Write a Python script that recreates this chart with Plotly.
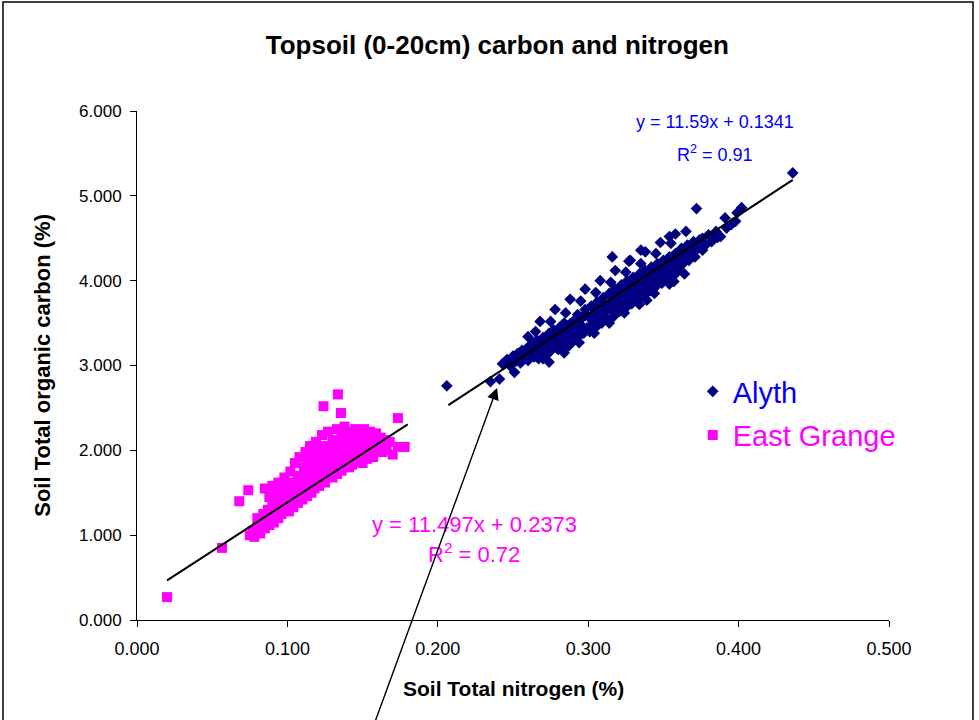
import plotly.graph_objects as go

# Alyth topsoil samples: total nitrogen (%) and total organic carbon (%)
alyth_n = [
    0.206, 0.235, 0.241, 0.251, 0.260, 0.436, 0.372, 0.402, 0.316, 0.327,
    0.335, 0.354, 0.357, 0.339, 0.365, 0.384, 0.391, 0.399, 0.386, 0.396,
    0.243, 0.246, 0.248, 0.250, 0.252, 0.253, 0.255, 0.256, 0.258, 0.259,
    0.260, 0.261, 0.262, 0.263, 0.264, 0.265, 0.266, 0.267, 0.268, 0.269,
    0.270, 0.271, 0.272, 0.273, 0.274, 0.275, 0.276, 0.277, 0.278, 0.279,
    0.280, 0.281, 0.282, 0.283, 0.284, 0.285, 0.286, 0.287, 0.288, 0.289,
    0.290, 0.291, 0.292, 0.293, 0.294, 0.295, 0.296, 0.297, 0.298, 0.299,
    0.300, 0.301, 0.302, 0.303, 0.304, 0.305, 0.306, 0.307, 0.308, 0.309,
    0.310, 0.311, 0.312, 0.313, 0.314, 0.315, 0.316, 0.317, 0.318, 0.319,
    0.320, 0.321, 0.322, 0.323, 0.324, 0.325, 0.326, 0.327, 0.328, 0.329,
    0.330, 0.331, 0.332, 0.333, 0.334, 0.335, 0.336, 0.337, 0.338, 0.339,
    0.340, 0.341, 0.342, 0.343, 0.344, 0.345, 0.346, 0.347, 0.348, 0.349,
    0.350, 0.351, 0.352, 0.353, 0.354, 0.355, 0.356, 0.357, 0.358, 0.359,
    0.360, 0.362, 0.363, 0.364, 0.366, 0.367, 0.368, 0.370, 0.371, 0.373,
    0.374, 0.376, 0.378, 0.380, 0.382, 0.385, 0.388, 0.392, 0.395, 0.398,
    0.262, 0.268, 0.274, 0.280, 0.286, 0.292, 0.298, 0.304, 0.310, 0.316,
    0.322, 0.328, 0.334, 0.340, 0.346, 0.352, 0.358, 0.364, 0.370, 0.376,
    0.265, 0.275, 0.285, 0.295, 0.305, 0.315, 0.325, 0.335, 0.345, 0.355,
    0.270, 0.280, 0.290, 0.300, 0.310, 0.320, 0.330, 0.340, 0.350, 0.360,
    0.248, 0.254, 0.258, 0.264, 0.272, 0.278, 0.288, 0.296, 0.306, 0.318,
    0.268, 0.278, 0.288, 0.298, 0.308, 0.318, 0.328, 0.338, 0.348, 0.358,
    0.274, 0.284, 0.294, 0.304, 0.314, 0.324, 0.334, 0.344, 0.354, 0.364,
]
alyth_c = [
    2.76, 2.81, 2.84, 2.92, 3.34, 5.27, 4.85, 4.86, 4.28, 4.23,
    4.36, 4.52, 3.99, 3.77, 4.58, 4.50, 4.74, 4.80, 4.51, 4.68,
    3.02, 3.07, 3.00, 3.11, 3.05, 3.14, 3.03, 3.18, 3.09, 3.20,
    3.06, 3.22, 3.13, 3.27, 3.10, 3.19, 3.30, 3.08, 3.24, 3.15,
    3.33, 3.20, 3.12, 3.28, 3.38, 3.17, 3.25, 3.42, 3.22, 3.31,
    3.19, 3.45, 3.35, 3.26, 3.50, 3.30, 3.40, 3.23, 3.46, 3.36,
    3.52, 3.30, 3.42, 3.60, 3.35, 3.48, 3.56, 3.38, 3.66, 3.44,
    3.58, 3.40, 3.70, 3.52, 3.62, 3.45, 3.75, 3.57, 3.67, 3.50,
    3.80, 3.62, 3.72, 3.54, 3.85, 3.66, 3.76, 3.58, 3.90, 3.70,
    3.82, 3.64, 3.95, 3.75, 3.86, 3.68, 4.00, 3.80, 3.92, 3.73,
    4.04, 3.86, 3.97, 3.78, 4.08, 3.90, 4.01, 3.84, 4.12, 3.95,
    4.06, 3.88, 4.16, 3.99, 4.10, 3.93, 4.20, 4.03, 4.14, 3.97,
    4.24, 4.08, 4.18, 4.02, 4.28, 4.12, 4.22, 4.06, 4.32, 4.16,
    4.26, 4.38, 4.20, 4.30, 4.42, 4.24, 4.34, 4.46, 4.28, 4.38,
    4.48, 4.36, 4.42, 4.54, 4.46, 4.58, 4.52, 4.62, 4.66, 4.70,
    3.19, 3.26, 3.33, 3.39, 3.47, 3.52, 3.59, 3.66, 3.73, 3.80,
    3.84, 3.96, 3.98, 4.09, 4.12, 4.23, 4.26, 4.37, 4.40, 4.50,
    3.40, 3.52, 3.62, 3.76, 3.86, 3.98, 4.10, 4.20, 4.32, 4.44,
    3.08, 3.20, 3.30, 3.44, 3.55, 3.66, 3.78, 3.88, 4.00, 4.12,
    3.00, 3.10, 3.15, 3.21, 3.29, 3.36, 3.49, 3.57, 3.71, 3.83,
    3.52, 3.66, 3.78, 3.90, 4.00, 4.12, 4.24, 4.34, 4.45, 4.55,
    3.04, 3.15, 3.27, 3.38, 3.50, 3.62, 3.72, 3.85, 3.96, 4.08,
]

# East Grange topsoil samples
grange_n = [
    0.020, 0.0565, 0.068, 0.074, 0.1336, 0.124, 0.1356, 0.1735, 0.178, 0.1735,
    0.170, 0.075, 0.077, 0.078, 0.080, 0.080, 0.082, 0.083, 0.084, 0.085,
    0.085, 0.086, 0.087, 0.088, 0.088, 0.089, 0.090, 0.090, 0.091, 0.092,
    0.092, 0.093, 0.094, 0.094, 0.095, 0.095, 0.096, 0.097, 0.097, 0.098,
    0.098, 0.099, 0.100, 0.100, 0.101, 0.102, 0.102, 0.103, 0.104, 0.104,
    0.105, 0.105, 0.106, 0.107, 0.107, 0.108, 0.108, 0.109, 0.110, 0.110,
    0.111, 0.111, 0.112, 0.112, 0.113, 0.113, 0.114, 0.114, 0.115, 0.115,
    0.116, 0.116, 0.117, 0.117, 0.118, 0.118, 0.119, 0.119, 0.120, 0.120,
    0.121, 0.121, 0.122, 0.122, 0.123, 0.123, 0.124, 0.124, 0.125, 0.125,
    0.126, 0.126, 0.127, 0.127, 0.128, 0.128, 0.129, 0.129, 0.130, 0.130,
    0.131, 0.131, 0.132, 0.132, 0.133, 0.133, 0.134, 0.134, 0.135, 0.135,
    0.136, 0.136, 0.137, 0.137, 0.138, 0.138, 0.139, 0.139, 0.140, 0.140,
    0.141, 0.141, 0.142, 0.142, 0.143, 0.143, 0.144, 0.144, 0.145, 0.145,
    0.146, 0.146, 0.147, 0.147, 0.148, 0.148, 0.149, 0.149, 0.150, 0.150,
    0.151, 0.151, 0.152, 0.153, 0.153, 0.154, 0.154, 0.155, 0.155, 0.156,
    0.157, 0.157, 0.158, 0.159, 0.160, 0.160, 0.161, 0.162, 0.163, 0.164,
    0.165, 0.166, 0.168, 0.090, 0.100, 0.110, 0.120, 0.130, 0.140, 0.150,
]
grange_c = [
    0.27, 0.85, 1.40, 1.53, 2.66, 2.52, 2.44, 2.38, 2.04, 2.04,
    1.95, 1.00, 1.05, 0.98, 1.10, 1.20, 1.02, 1.15, 1.25, 1.08,
    1.55, 1.18, 1.30, 1.12, 1.45, 1.22, 1.35, 1.58, 1.15, 1.28,
    1.50, 1.40, 1.20, 1.62, 1.32, 1.46, 1.25, 1.38, 1.55, 1.30,
    1.68, 1.45, 1.35, 1.60, 1.28, 1.50, 1.75, 1.40, 1.62, 1.33,
    1.55, 1.85, 1.45, 1.70, 1.38, 1.58, 1.92, 1.48, 1.66, 1.42,
    1.80, 1.55, 1.98, 1.50, 1.72, 1.46, 1.62, 1.88, 1.55, 2.05,
    1.68, 1.50, 1.82, 1.60, 1.95, 1.55, 1.72, 2.10, 1.62, 1.85,
    1.58, 2.00, 1.75, 1.65, 1.90, 2.18, 1.68, 1.80, 2.05, 1.62,
    1.95, 1.72, 1.85, 2.22, 1.70, 2.00, 1.78, 1.90, 2.12, 1.68,
    1.82, 2.05, 1.75, 1.95, 2.25, 1.72, 1.88, 2.08, 1.80, 1.98,
    2.18, 1.76, 1.92, 2.10, 1.85, 2.28, 1.82, 2.00, 1.90, 2.15,
    1.80, 2.05, 2.22, 1.88, 1.98, 1.83, 2.12, 1.92, 2.25, 1.86,
    2.02, 1.95, 2.15, 1.88, 2.08, 2.20, 1.92, 2.00, 2.12, 1.85,
    2.25, 1.96, 2.05, 1.90, 2.18, 2.00, 2.10, 1.95, 2.22, 2.05,
    1.92, 2.15, 2.02, 2.20, 1.98, 2.10, 2.05, 2.15, 1.98, 2.08,
    2.12, 2.00, 2.10, 1.22, 1.40, 1.52, 1.70, 1.80, 1.95, 2.02,
]

# Linear trendlines (slope, intercept, R^2) and their x extents
alyth_fit = (11.59, 0.1341, 0.91)
alyth_fit_x = [0.207, 0.436]
grange_fit = (11.497, 0.2373, 0.72)
grange_fit_x = [0.020, 0.180]

x_ticks = [0.0, 0.1, 0.2, 0.3, 0.4, 0.5]
y_ticks = [0, 1, 2, 3, 4, 5, 6]

NAVY = "#000080"
BLUE = "#0000FF"
MAGENTA = "#FF00FF"
FONT = "Liberation Sans, Arial, sans-serif"


def fit_line(fit, xs):
    slope, intercept, _ = fit
    return [slope * x + intercept for x in xs]


fig = go.Figure()

fig.add_trace(go.Scatter(
    x=alyth_n, y=alyth_c, mode="markers",
    name="<span style='color:%s'>Alyth</span>" % BLUE,
    legendgroup="a",
    marker=dict(symbol="diamond", size=9, color=NAVY, line=dict(width=0)),
))
fig.add_trace(go.Scatter(
    x=grange_n, y=grange_c, mode="markers",
    name="<span style='color:%s'>East Grange</span>" % MAGENTA,
    legendgroup="b",
    marker=dict(symbol="square", size=10, color=MAGENTA, line=dict(width=0)),
))
fig.add_trace(go.Scatter(
    x=alyth_fit_x, y=fit_line(alyth_fit, alyth_fit_x), mode="lines",
    line=dict(color="black", width=2), showlegend=False, hoverinfo="skip",
))
fig.add_trace(go.Scatter(
    x=grange_fit_x, y=fit_line(grange_fit, grange_fit_x), mode="lines",
    line=dict(color="black", width=2), showlegend=False, hoverinfo="skip",
))

annotations = [
    # trendline equations
    dict(x=0.3843, y=5.87, xref="x", yref="y", showarrow=False,
         text="y = %.2fx + %.4f" % alyth_fit[:2],
         font=dict(family=FONT, size=18, color=BLUE)),
    dict(x=0.3843, y=5.50, xref="x", yref="y", showarrow=False,
         text="R<sup>2</sup> = %.2f" % alyth_fit[2],
         font=dict(family=FONT, size=18, color=BLUE)),
    dict(x=0.2241, y=1.13, xref="x", yref="y", showarrow=False,
         text="y = %.3fx + %.4f" % grange_fit[:2],
         font=dict(family=FONT, size=22, color=MAGENTA)),
    dict(x=0.2241, y=0.79, xref="x", yref="y", showarrow=False,
         text="R<sup>2</sup> = %.2f" % grange_fit[2],
         font=dict(family=FONT, size=22, color=MAGENTA)),
    # pointer to the low end of the Alyth cloud
    dict(x=0.2394, y=2.736, xref="x", yref="y", ax=0.1562, ay=-1.30,
         axref="x", ayref="y", text="", showarrow=True,
         arrowhead=2, arrowsize=1.7, arrowwidth=1.4, arrowcolor="black"),
    # axis titles
    dict(x=0.5, y=-0.135, xref="paper", yref="paper", showarrow=False,
         text="<b>Soil Total nitrogen (%)</b>", xanchor="center", yanchor="middle",
         font=dict(family=FONT, size=21, color="black")),
    dict(x=-0.126, y=0.5, xref="paper", yref="paper", showarrow=False,
         text="<b>Soil Total organic carbon (%)</b>", textangle=-90,
         xanchor="center", yanchor="middle",
         font=dict(family=FONT, size=22, color="black")),
]

fig.update_layout(
    width=979, height=720,
    margin=dict(l=137, r=90, t=111, b=100),
    paper_bgcolor="white", plot_bgcolor="white",
    font=dict(family=FONT, size=16, color="black"),
    title=dict(text="<b>Topsoil (0-20cm) carbon and nitrogen</b>",
               x=0.508, xref="container", xanchor="center",
               y=1 - 45 / 720, yref="container", yanchor="middle",
               font=dict(family=FONT, size=26, color="black")),
    showlegend=True,
    legend=dict(x=0.739, y=0.499, xanchor="left", yanchor="top",
                bgcolor="rgba(0,0,0,0)", borderwidth=0,
                font=dict(family=FONT, size=29),
                tracegroupgap=3, itemwidth=30),
    annotations=annotations,
    shapes=[dict(type="rect", xref="paper", yref="paper",
                 x0=-0.1782, x1=1.1117, y0=-0.25, y1=1.2142,
                 line=dict(color="black", width=1.5), fillcolor="rgba(0,0,0,0)",
                 layer="below")],
)

fig.update_xaxes(
    range=[0, 0.5], tickvals=x_ticks, tickformat=".3f",
    tickfont=dict(family=FONT, size=18, color="black"),
    ticklabelstandoff=6,
    showline=True, linecolor="black", linewidth=1,
    ticks="outside", ticklen=6, tickcolor="black",
    showgrid=False, zeroline=False,
)
fig.update_yaxes(
    range=[0, 6], tickvals=y_ticks, tickformat=".3f",
    tickfont=dict(family=FONT, size=17, color="black"),
    ticklabelstandoff=5,
    showline=True, linecolor="black", linewidth=1,
    ticks="outside", ticklen=6, tickcolor="black",
    showgrid=False, zeroline=False,
)

fig.write_html("out.html")
